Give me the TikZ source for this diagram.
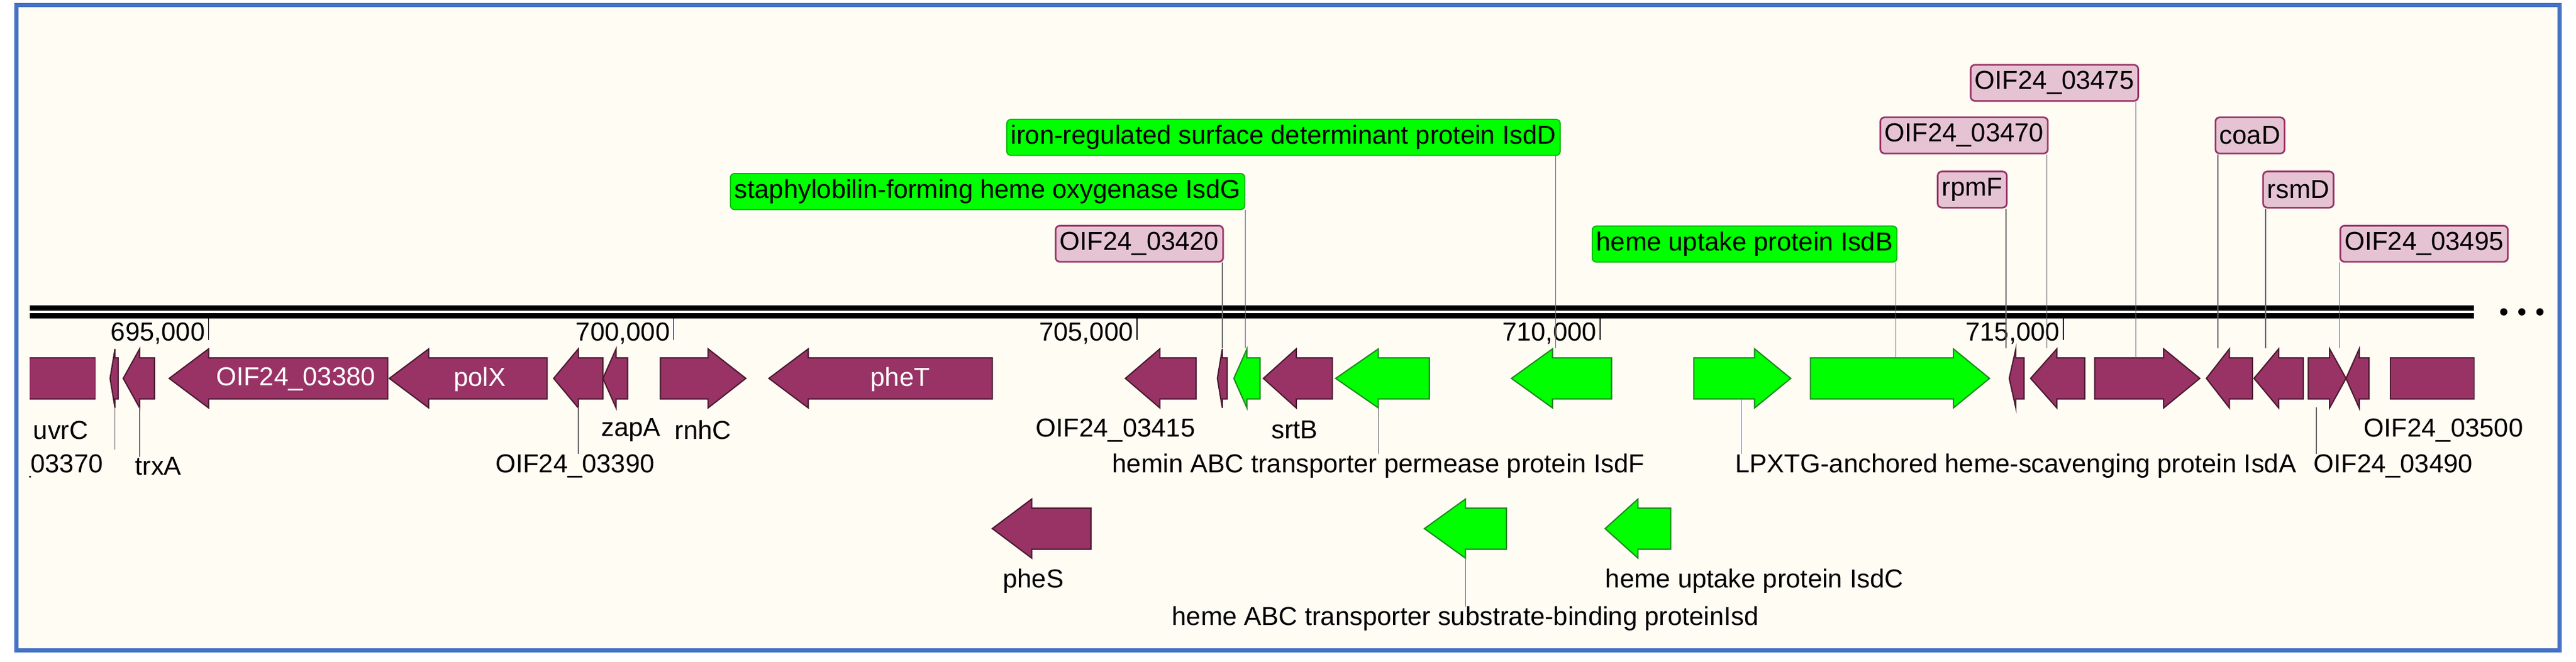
\documentclass[tikz,border=0pt]{standalone}
\usepackage{fontspec}
\setmainfont{Liberation Sans}
\begin{document}
\definecolor{mar}{HTML}{993366}
\definecolor{mard}{HTML}{4A1A30}
\definecolor{grn}{HTML}{00FF00}
\definecolor{grnd}{HTML}{1E8A1E}
\definecolor{bg}{HTML}{FFFCF4}
\definecolor{frame}{HTML}{4472C4}
\definecolor{pinkbox}{HTML}{E6C3D3}
\begin{tikzpicture}[x=0.02752cm,y=-0.02752cm,
  mg/.style={fill=mar,draw=mard,line width=0.6pt},
  gg/.style={fill=grn,draw=grnd,line width=0.6pt},
  lab/.style={font=\fontsize{12.4}{14}\selectfont,inner sep=0pt},
  pbox/.style={lab,fill=pinkbox,draw=mar,line width=0.8pt,rounded corners=2pt,inner xsep=2pt,minimum height=22*0.02752cm},
  gbox/.style={lab,fill=grn,draw=grn!70!black,line width=0.5pt,rounded corners=2pt,inner xsep=2pt,minimum height=22*0.02752cm},
  lead/.style={draw=black!60,line width=0.4pt}]
\newcommand\gl[5]{\filldraw[#5] ({#1},{#4}) -- ({#2},{#4-18}) -- ({#2},{#4-12.5}) -- ({#3},{#4-12.5}) -- ({#3},{#4+12.5}) -- ({#2},{#4+12.5}) -- ({#2},{#4+18}) -- cycle;}
\newcommand\gr[5]{\filldraw[#5] ({#3},{#4}) -- ({#2},{#4-18}) -- ({#2},{#4-12.5}) -- ({#1},{#4-12.5}) -- ({#1},{#4+12.5}) -- ({#2},{#4+12.5}) -- ({#2},{#4+18}) -- cycle;}
\useasboundingbox (0,0) rectangle (1568,403);
\fill[white] (0,0) rectangle (1568,403);
\fill[bg,draw=frame,line width=2pt] (10,3) rectangle (1558,396);
% axis
\fill[black] (18,186) rectangle (1506,194);
\draw[white,line width=1.2pt] (18,190) -- (1506,190);
\foreach \c in {1524,1535,1546} \fill (\c,190) circle (2.2);
\foreach \x/\t in {127/695,410/700,692/705,974/710,1256/715}{
  \draw[line width=0.5pt] (\x,194) -- (\x,207);
  \node[lab,anchor=east] at (\x-2,203) {\t,000};}
% main row genes
\begin{scope}
\clip (18,0) rectangle (1568,403);
\fill[mar,draw=mard] (12,218) rectangle (58,243);
\node[lab,anchor=east] (l03370) at (63,284) {OIF24\_03370};
\end{scope}
\def\yc{230.5}
\gl{67}{70}{72}{\yc}{mg}
\gl{75}{85}{94}{\yc}{mg}
\gl{103}{127}{236}{\yc}{mg}
\gl{237}{261}{333}{\yc}{mg}
\gl{337}{352}{367}{\yc}{mg}
\gl{367}{375}{382}{\yc}{mg}
\gr{402}{431}{454}{\yc}{mg}
\gl{468}{492}{604}{\yc}{mg}
\gl{685}{706}{728}{\yc}{mg}
\gl{741}{744}{747}{\yc}{mg}
\gl{751}{759}{767}{\yc}{gg}
\gl{769}{789}{811}{\yc}{mg}
\gl{813}{839}{870}{\yc}{gg}
\gl{920}{945}{981}{\yc}{gg}
\gr{1031}{1068}{1090}{\yc}{gg}
\gr{1102}{1189}{1211}{\yc}{gg}
\gl{1223}{1227}{1232}{\yc}{mg}
\gl{1236}{1252}{1269}{\yc}{mg}
\gr{1275}{1317}{1339}{\yc}{mg}
\gl{1343}{1357}{1371}{\yc}{mg}
\gl{1372}{1387}{1402}{\yc}{mg}
\gr{1405}{1418}{1428}{\yc}{mg}
\gl{1428}{1436}{1442}{\yc}{mg}
\fill[mar,draw=mard] (1455,218) rectangle (1506,243);
\node[lab,text=white] (n03380) at (180,231) {OIF24\_03380};
\node[lab,text=white] (npolX) at (292,231) {polX};
\node[lab,text=white] (npheT) at (548,231) {pheT};
% second row genes
\gl{604}{628}{664}{322}{mg}
\gl{867}{892}{917}{322}{gg}
\gl{977}{997}{1017}{322}{gg}
% labels above
\node[gbox,anchor=south east] (lIsdD) at (950,95) {iron-regulated surface determinant protein IsdD};
\node[gbox,anchor=south east] (lIsdG) at (758,128) {staphylobilin-forming heme oxygenase IsdG};
\node[pbox,anchor=south east] (l03420) at (745,160) {OIF24\_03420};
\node[gbox,anchor=south east] (lIsdB) at (1155,160) {heme uptake protein IsdB};
\node[pbox,anchor=south east] (l03470) at (1247,94) {OIF24\_03470};
\node[pbox,anchor=south east] (l03475) at (1302,62) {OIF24\_03475};
\node[pbox,anchor=south east] (lrpmF) at (1222,127) {rpmF};
\node[pbox,anchor=south west] (lcoaD) at (1348,94) {coaD};
\node[pbox,anchor=south west] (lrsmD) at (1377,127) {rsmD};
\node[pbox,anchor=south west] (l03495) at (1424,160) {OIF24\_03495};
\coordinate (tIsdD) at (947,212);
\coordinate (tIsdG) at (758,212);
\coordinate (t03420) at (744,212);
\coordinate (tIsdB) at (1154,218);
\coordinate (t03470) at (1246,212);
\coordinate (t03475) at (1300,218);
\coordinate (trpmF) at (1221,212);
\coordinate (tcoaD) at (1350,212);
\coordinate (trsmD) at (1379,212);
\coordinate (t03495) at (1424,212);
\draw[lead] (lIsdD.south east) ++(-3,0) -- (tIsdD);
\draw[lead] (lIsdG.south east) -- (tIsdG);
\draw[lead] (l03420.south east) ++(-1,0) -- (t03420);
\draw[lead] (lIsdB.south east) ++(-1,0) -- (tIsdB);
\draw[lead] (l03470.south east) ++(-1,0) -- (t03470);
\draw[lead] (l03475.south east) ++(-2,0) -- (t03475);
\draw[lead] (lrpmF.south east) ++(-1,0) -- (trpmF);
\draw[lead] (lcoaD.south west) ++(2,0) -- (tcoaD);
\draw[lead] (lrsmD.south west) ++(2,0) -- (trsmD);
\draw[lead] (l03495.south west) -- (t03495);
% labels below
\node[lab] (luvrC) at (37,262) {uvrC};
\node[lab,anchor=west] (ltrxA) at (82,284) {trxA};
\node[lab] (l03390) at (350,284) {OIF24\_03390};
\node[lab] (lzapA) at (384,262) {zapA};
\node[lab] (lrnhC) at (428,262) {rnhC};
\node[lab] (l03415) at (679,262) {OIF24\_03415};
\node[lab] (lsrtB) at (788,262) {srtB};
\node[lab] (lIsdF) at (839,284) {hemin ABC transporter permease protein IsdF};
\node[lab,anchor=west] (lIsdA) at (1056,284) {LPXTG-anchored heme-scavenging protein IsdA};
\node[lab,anchor=west] (l03490) at (1408,284) {OIF24\_03490};
\node[lab,anchor=east] (l03500) at (1536,262) {OIF24\_03500};
\node[lab] (lpheS) at (629,354) {pheS};
\node[lab,anchor=west] (lIsdC) at (977,354) {heme uptake protein IsdC};
\node[lab] (lIsdX) at (892,377) {heme ABC transporter substrate-binding proteinIsd};
\coordinate (b03370) at (70,248);
\coordinate (btrxA) at (85,248);
\coordinate (b03390) at (352,248);
\coordinate (bIsdF) at (839,248);
\coordinate (bIsdA) at (1060,243);
\coordinate (b03490) at (1410,248);
\coordinate (bIsdX) at (892,340);
\draw[lead] (b03370) -- (70,274);
\draw[lead] (btrxA) -- (ltrxA.north west -| btrxA);
\draw[lead] (b03390) -- (l03390.north -| b03390);
\draw[lead] (bIsdF) -- (lIsdF.north -| bIsdF);
\draw[lead] (bIsdA) -- (lIsdA.north -| bIsdA);
\draw[lead] (b03490) -- (l03490.north -| b03490);
\draw[lead] (bIsdX) -- (lIsdX.north -| bIsdX);
\end{tikzpicture}
\end{document}
